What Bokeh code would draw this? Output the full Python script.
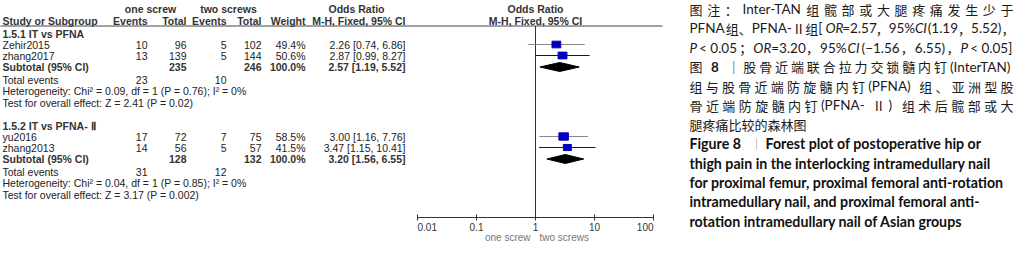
from bokeh.plotting import figure
from bokeh.models import Range1d, LogScale, ColumnDataSource
from bokeh.core.properties import value
from bokeh.embed import file_html
from bokeh.resources import INLINE

# ---------------- data ----------------
groups = ["1.5.1 IT vs PFNA", "1.5.2 IT vs PFNA- Ⅱ"]
study = ["Zehir2015", "zhang2017", "yu2016", "zhang2013"]
study_group = [0, 0, 1, 1]
ev_one = [10, 13, 17, 14]
tot_one = [96, 139, 72, 56]
ev_two = [5, 5, 7, 5]
tot_two = [102, 144, 75, 57]
weight = [49.4, 50.6, 58.5, 41.5]
odds = [2.26, 2.87, 3.00, 3.47]
ci_low = [0.74, 0.99, 1.16, 1.15]
ci_high = [6.86, 8.27, 7.76, 10.41]

sub_tot_one = [235, 128]
sub_tot_two = [246, 132]
sub_odds = [2.57, 3.20]
sub_low = [1.19, 1.56]
sub_high = [5.52, 6.55]
sum_ev_one = [23, 31]
sum_ev_two = [10, 12]
chi2 = [0.09, 0.04]
dfree = [1, 1]
p_het = [0.76, 0.85]
i2 = [0, 0]
z_val = [2.41, 3.17]
p_z = ["0.02", "0.002"]

ticks = [0.01, 0.1, 1, 10, 100]
tick_labels = ["0.01", "0.1", "1", "10", "100"]
favours = ["one screw", "two screws"]

caption_cn = [
    [("图注：Inter-TAN 组髋部或大腿疼痛发生少于", "n")],
    [("PFNA 组、PFNA- Ⅱ组 [", "n"), ("OR", "i"), ("=2.57，95%", "n"), ("CI", "i"), ("(1.19，5.52)，", "n")],
    [("P", "i"), (" < 0.05；", "n"), ("OR", "i"), ("=3.20，95%", "n"), ("CI", "i"), ("(−1.56，6.55)，", "n"), ("P", "i"), (" < 0.05]", "n")],
    [("图 ", "n"), ("8", "b"), (" ｜股骨近端联合拉力交锁髓内钉 (InterTAN)", "n")],
    [("组与股骨近端防旋髓内钉 (PFNA) 组、亚洲型股", "n")],
    [("骨近端防旋髓内钉 (PFNA- Ⅱ ) 组术后髋部或大", "n")],
    [("腿疼痛比较的森林图", "n")],
]
caption_en_head = ["Figure 8", "｜", "Forest plot of postoperative hip or"]
caption_en = [
    "thigh pain in the interlocking intramedullary nail",
    "for proximal femur, proximal femoral anti-rotation",
    "intramedullary nail, and proximal femoral anti-",
    "rotation intramedullary nail of Asian groups",
]

# ---------------- layout ----------------
W, H = 1018, 243
OX, OY = 8, 8
X_ONE = 543.0      # pixel of OR = 1
DEC = 59.0         # pixels per decade
COL_STUDY, COL_EV1, COL_TOT1, COL_EV2, COL_TOT2, COL_W, COL_OR = 10, 155, 194, 234, 269, 313, 413
GROUP_Y = [41, 133]
OFF = [0, 11, 22, 33.5, 46, 57.5, 69.5]
HEAD1_Y, HEAD2_Y, RULE_Y = 16, 28.5, 33.5
AXIS_Y = 225
TXT = "#222222"
FONT = value("Liberation Sans")
FS = "10.5px"

p = figure(width=W, height=H, x_range=Range1d(OX, OX + W), y_range=Range1d(OY + H, OY),
           output_backend="svg", toolbar_location=None, min_border=0,
           x_axis_location=None, y_axis_location=None)
p.grid.visible = False
p.outline_line_color = None
p.background_fill_color = "white"
p.border_fill_color = "white"
p.extra_x_ranges = {"or": Range1d(10 ** ((OX - X_ONE) / DEC), 10 ** ((OX + W - X_ONE) / DEC))}
p.extra_x_scales = {"or": LogScale()}


def txt(x, y, t, align="left", bold=False, color=TXT, size=FS, font=FONT, rng="default", xoff=0, style=None):
    kw = {}
    if rng != "default":
        kw["x_range_name"] = rng
    p.text(x=x, y=y, text=t, text_font=font, text_font_size=size,
           text_font_style=style if style else ("bold" if bold else "normal"),
           text_align=align, text_baseline="middle", text_color=color, x_offset=xoff, **kw)


# headers
txt([158, 236], [HEAD1_Y] * 2, ["one screw", "two screws"], align="center", bold=True, color="#333333")
txt([364], [HEAD1_Y], ["Odds Ratio"], align="center", bold=True, color="#333333")
txt([1], [HEAD1_Y], ["Odds Ratio"], align="center", bold=True, color="#333333", rng="or")
txt([COL_STUDY], [HEAD2_Y], ["Study or Subgroup"], bold=True, color="#333333")
txt([COL_EV1, COL_TOT1, COL_EV2, COL_TOT2, COL_W], [HEAD2_Y] * 5,
    ["Events", "Total", "Events", "Total", "Weight"], align="right", bold=True, color="#333333")
txt([COL_OR], [HEAD2_Y], ["M-H, Fixed, 95% CI"], align="right", bold=True, color="#333333")
txt([1], [HEAD2_Y], ["M-H, Fixed, 95% CI"], align="center", bold=True, color="#333333", rng="or")
p.segment(x0=[5], x1=[670], y0=[RULE_Y], y1=[RULE_Y], line_color="#444444", line_width=1)

# study rows
row_y = []
cnt = [0, 0]
for g in study_group:
    cnt[g] += 1
    row_y.append(GROUP_Y[g] + OFF[cnt[g]])

src = ColumnDataSource(dict(
    y=row_y, study=study,
    ev1=[str(v) for v in ev_one], t1=[str(v) for v in tot_one],
    ev2=[str(v) for v in ev_two], t2=[str(v) for v in tot_two],
    w=[f"{v:.1f}%" for v in weight],
    ortxt=[f"{o:.2f} [{l:.2f}, {h:.2f}]" for o, l, h in zip(odds, ci_low, ci_high)],
    odds=odds, lo=ci_low, hi=ci_high,
    sq=[(v ** 0.5) * 1.25 for v in weight],
    sqh=[(v ** 0.5) * 0.95 for v in weight],
    cicol=["#8a8a8a", "#1a1a1a", "#8a8a8a", "#1a1a1a"],
))
for col, xx, al in [("study", COL_STUDY, "left"), ("ev1", COL_EV1, "right"), ("t1", COL_TOT1, "right"),
                    ("ev2", COL_EV2, "right"), ("t2", COL_TOT2, "right"), ("w", COL_W, "right"),
                    ("ortxt", COL_OR, "right")]:
    p.text(x=xx, y="y", text=col, source=src, text_font=FONT, text_font_size=FS,
           text_align=al, text_baseline="middle", text_color=TXT)

# group rows
for g in range(2):
    gy = GROUP_Y[g]
    txt([COL_STUDY], [gy], [groups[g]], bold=True, color="#333333")
    sy = gy + OFF[3]
    txt([COL_STUDY], [sy], ["Subtotal (95% CI)"], bold=True, color="#333333")
    txt([COL_TOT1, COL_TOT2, COL_W, COL_OR], [sy] * 4,
        [str(sub_tot_one[g]), str(sub_tot_two[g]), "100.0%",
         f"{sub_odds[g]:.2f} [{sub_low[g]:.2f}, {sub_high[g]:.2f}]"], align="right", bold=True, color="#333333")
    ty = gy + OFF[4]
    txt([COL_STUDY], [ty], ["Total events"])
    txt([COL_EV1, COL_EV2], [ty] * 2, [str(sum_ev_one[g]), str(sum_ev_two[g])], align="right")
    txt([COL_STUDY], [gy + OFF[5]],
        [f"Heterogeneity: Chi² = {chi2[g]:.2f}, df = {dfree[g]} (P = {p_het[g]:.2f}); I² = {i2[g]}%"])
    txt([COL_STUDY], [gy + OFF[6]], [f"Test for overall effect: Z = {z_val[g]:.2f} (P = {p_z[g]})"])
    # diamond
    p.patches(xs=[[sub_low[g], sub_odds[g], sub_high[g], sub_odds[g]]],
              ys=[[sy, sy - 4.5, sy, sy + 4.5]], x_range_name="or",
              fill_color="black", line_color="black")

# forest marks
p.segment(x0=[1], x1=[1], y0=[RULE_Y], y1=[AXIS_Y], x_range_name="or", line_color="#333333", line_width=1)
p.segment(x0="lo", x1="hi", y0="y", y1="y", source=src, x_range_name="or", line_color="cicol", line_width=1)
p.rect(x="odds", y="y", width="sq", height="sqh", width_units="screen", height_units="screen",
       source=src, x_range_name="or", fill_color="#0000c0", line_color="#0000c0")

# axis
p.segment(x0=[ticks[0]], x1=[ticks[-1]], y0=[AXIS_Y], y1=[AXIS_Y], x_range_name="or", line_color="#333333")
p.segment(x0=ticks, x1=ticks, y0=[AXIS_Y - 3] * len(ticks), y1=[AXIS_Y + 3] * len(ticks),
          x_range_name="or", line_color="#333333")
aligns = ["left"] + ["center"] * (len(ticks) - 2) + ["right"]
for t, lab, al in zip(ticks, tick_labels, aligns):
    txt([t], [AXIS_Y + 9], [lab], align=al, rng="or", size="10px", color="#333333")
txt([1], [AXIS_Y + 20], [favours[0]], align="right", rng="or", size="10px", color="#777777", xoff=-5)
txt([1], [AXIS_Y + 20], [favours[1]], align="left", rng="or", size="10px", color="#777777", xoff=4)

# ---------------- caption ----------------
CX0, CX1 = 697, 1021
CY0 = 16.5
CDY = (228.5 - CY0) / 11
CFS = 13.0
LFS = 13.5


def is_cjk(ch):
    return ord(ch) >= 0x2E80 or ch in "Ⅱ"


def latin_w(s, size, bold=False):
    w = 0.0
    for ch in s:
        if ch == " ":
            e = 0.2
        elif ch in "il.,:;|!'":
            e = 0.24
        elif ch in "ftrjI()[]-":
            e = 0.33
        elif ch in "mwMW%":
            e = 0.82
        elif ch.isupper():
            e = 0.62
        elif ch.isdigit():
            e = 0.56
        elif ch in "=<+−":
            e = 0.56
        else:
            e = 0.5
        w += e
    return w * size * (1.04 if bold else 1.0)


buckets = {}


def add_tok(key, x, y, t):
    b = buckets.setdefault(key, dict(x=[], y=[], t=[]))
    b["x"].append(x)
    b["y"].append(y)
    b["t"].append(t)


for li, segs in enumerate(caption_cn):
    toks = []
    for text, st in segs:
        run = ""
        for ch in text:
            if is_cjk(ch):
                if run:
                    toks.append((run, "lat", st))
                    run = ""
                toks.append((ch, "cjk", st))
            else:
                run += ch
        if run:
            toks.append((run, "lat", st))
    widths = [CFS if k == "cjk" else latin_w(t, LFS, st == "b") for t, k, st in toks]
    justify = li < len(caption_cn) - 1
    extra = max(0.0, (CX1 - CX0 - sum(widths)) / (len(toks) - 1)) if justify else 0.0
    x = CX0
    y = CY0 + CDY * li
    for (t, k, st), w in zip(toks, widths):
        add_tok((k, st), x, y, t)
        x += w + extra

for (k, st), b in buckets.items():
    font = "Noto Sans CJK SC" if k == "cjk" else "Lato"
    fstyle = {"n": "normal", "i": "italic", "b": "bold"}[st]
    size = f"{CFS}px" if k == "cjk" else f"{LFS}px"
    p.text(x=b["x"], y=b["y"], text=b["t"], text_font=value(font), text_font_size=size,
           text_font_style=fstyle, text_align="left", text_baseline="middle", text_color="#1a1a1a")

EFS = "14.2px"
ey = CY0 + CDY * len(caption_cn)
txt([CX0], [ey], [caption_en_head[0]], bold=True, color="#111111", size=EFS, font=value("Lato"))
txt([CX0 + 61], [ey], [caption_en_head[1]], color="#888888", size="12px", font=value("Noto Sans CJK SC"))
txt([CX0 + 76], [ey], [caption_en_head[2]], bold=True, color="#111111", size=EFS, font=value("Lato"))
for i, line in enumerate(caption_en):
    txt([CX0], [ey + CDY * (i + 1)], [line], bold=True, color="#111111", size=EFS, font=value("Lato"))

open("out.html", "w").write(file_html(p, INLINE))
